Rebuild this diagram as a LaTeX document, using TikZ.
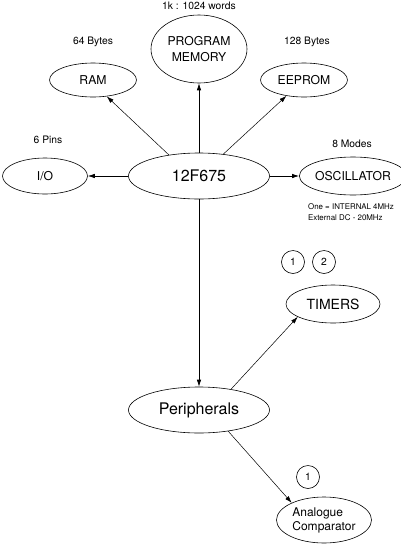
\documentclass[tikz,border=0pt]{standalone}
\usepackage{fontspec}
\setmainfont{TeX Gyre Heros}
\usetikzlibrary{shapes.geometric,arrows.meta}
\tikzset{
	every unit/.style={
		ellipse,
		draw,
		line width=0.6pt,
		inner sep=0pt,
		align=center,
		font=\fontsize{12.2}{16}\selectfont },
	unit big/.style={
		font=\fontsize{16}{18}\selectfont },
	size note/.style={
		font=\fontsize{10.3}{12}\selectfont },
	osc note/.style={
		align=left,
		inner sep=0pt,
		font=\fontsize{7.9}{11}\selectfont },
	count mark/.style={
		circle,
		draw,
		line width=0.6pt,
		minimum size=23pt,
		inner sep=0pt,
		font=\fontsize{10.3}{12}\selectfont },
}

\begin{document}
\begin{tikzpicture}[x=1pt, y=-1pt, >={Latex[length=7pt,width=4.5pt]}, line width=0.7pt]
	\useasboundingbox (0,0) rectangle (400,547);

		\node [every unit, unit big, minimum width=141pt, minimum height=46pt] (chip) at (199,176) {12F675};
		\node [every unit, unit big, minimum width=141pt, minimum height=46pt] (perip) at (199,410) {Peripherals};

		\foreach \n/\x/\y/\w/\h/\t in {io/45/176/85/36/{I/O}, osc/353/176/88/38/{OSCILLATOR},
			ram/93/80/87/34/{RAM}, progmem/199/49/96/68/{PROGRAM\\MEMORY}, eeprom/304/80/87/34/{EEPROM}}
		\node [every unit, minimum width=\w pt, minimum height=\h pt] (\n) at (\x,\y) {\t};

		\node [every unit, font=\fontsize{14}{16}\selectfont, minimum width=94pt, minimum height=38pt] (timers) at (333,304) {TIMERS};
		\node [every unit, align=left, font=\fontsize{12}{14}\selectfont, minimum width=95pt, minimum height=46pt] (comp) at (324,520) {Analogue\\Comparator};

		\foreach \n/\x/\y/\t in {mem-size/199/6/{1k : 1024 words}, ram-size/93/42/{64 Bytes},
			rom-size/307/42/{128 Bytes}, io-size/48/140/{6 Pins}, osc-size/352/144/{8 Modes}}
		\node [size note] (\n) at (\x,\y) {\t};

		\node [osc note] (osc-note) at (351,212.5) {One = INTERNAL 4MHz\\External DC - 20MHz};

		\foreach \n/\x/\y/\t in {1/293/262/1, 2/324/262/2, 3/308/477/1}
		\node [count mark] (mark-\n) at (\x,\y) {\t};

		\draw [->] (chip) -- (io);
		\draw [->] (chip) -- (osc);
		\draw [->] (chip.north) -- (progmem.south);
		\draw [->] (chip.south) -- (perip.north);

		\foreach \t/\a/\b in {ram/145/-50, eeprom/42/222}
		\draw [->, line width=0.5pt] (chip.\a) -- (\t.\b);

		\draw [->, line width=0.5pt] (perip.33) -- (timers.200);
		\draw [->, line width=0.5pt] (perip.-36) -- (comp.152);
	\end{tikzpicture}
\end{document}
